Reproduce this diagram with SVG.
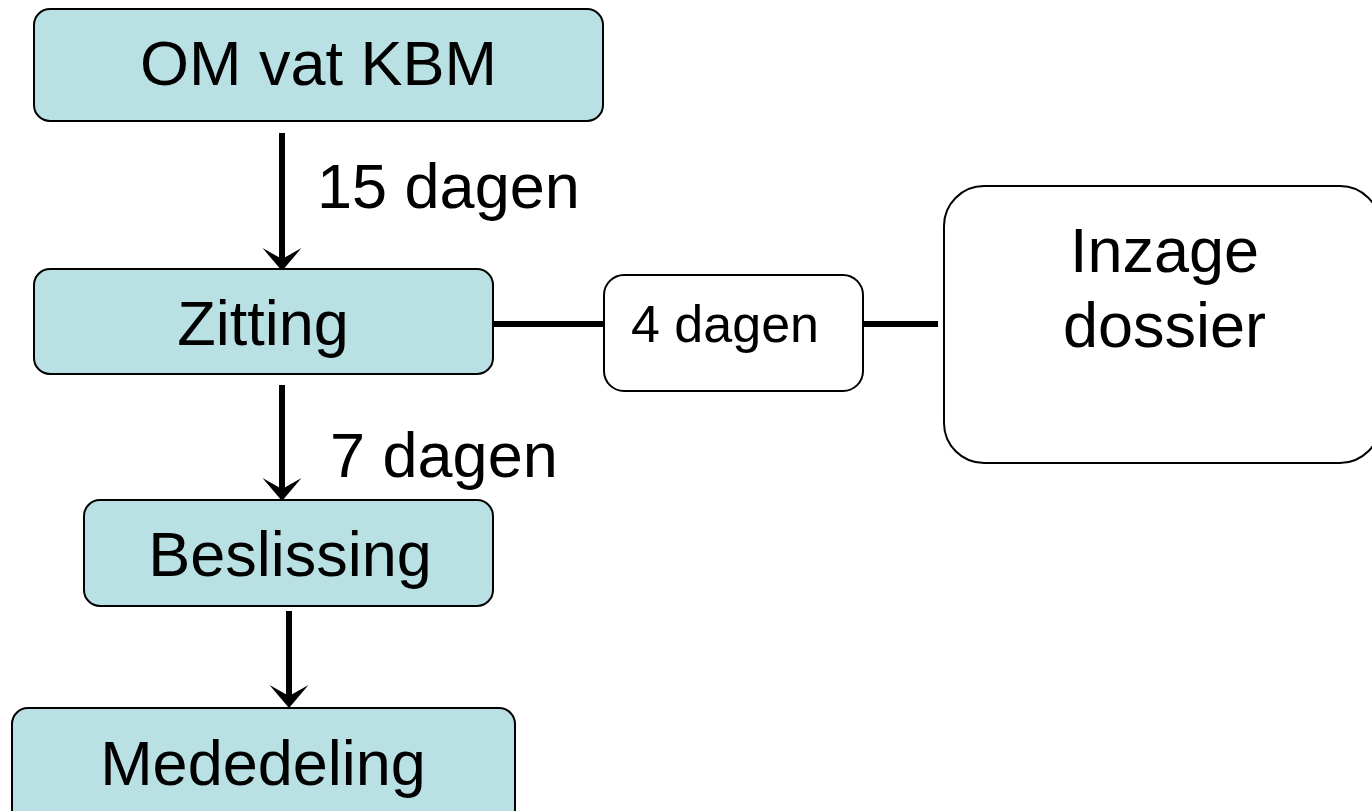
<svg xmlns="http://www.w3.org/2000/svg" width="1372" height="811" viewBox="0 0 1372 811">
  <style>
    .step { fill: #B9E0E3; stroke: #000; stroke-width: 2; }
    .plain { fill: #FFFFFF; stroke: #000; stroke-width: 2; }
    .lbl { font-family: "Liberation Sans", Arial, sans-serif; font-size: 63px; fill: #000; }
    .mid { text-anchor: middle; }
    .conn { stroke: #000; stroke-width: 6; fill: none; }
  </style>
  <defs>
    <marker id="head" markerUnits="userSpaceOnUse" viewBox="0 -20 24 40" markerWidth="24" markerHeight="40" refX="11" refY="0" orient="auto">
      <path d="M0,-19.5 L23,0 L0,19.5 L11,0 Z" fill="#000"/>
    </marker>
  </defs>
  <rect width="1372" height="811" fill="#FFFFFF"/>

  <g id="connectors">
    <line class="conn" x1="282" y1="133" x2="282" y2="259" marker-end="url(#head)"/>
    <line class="conn" x1="282" y1="385" x2="282" y2="489" marker-end="url(#head)"/>
    <line class="conn" x1="289" y1="611" x2="289" y2="696" marker-end="url(#head)"/>
    <line class="conn" x1="493" y1="324" x2="604" y2="324"/>
    <line class="conn" x1="863" y1="324" x2="938" y2="324"/>
  </g>

  <g id="label-15">
    <text class="lbl" x="317" y="208">15 dagen</text>
  </g>
  <g id="label-7">
    <text class="lbl" x="330" y="477">7 dagen</text>
  </g>

  <g id="node-om">
    <rect class="step" x="34" y="9" width="569" height="112" rx="16" ry="16"/>
    <text class="lbl mid" x="318.5" y="85">OM vat KBM</text>
  </g>

  <g id="node-zitting">
    <rect class="step" x="34" y="269" width="459" height="105" rx="16" ry="16"/>
    <text class="lbl mid" x="263" y="345">Zitting</text>
  </g>

  <g id="node-4dagen">
    <rect class="plain" x="604" y="275" width="259" height="116" rx="20" ry="20"/>
    <text class="lbl" x="631" y="342" style="font-size:52px">4 dagen</text>
  </g>

  <g id="node-inzage">
    <rect class="plain" x="944" y="186" width="436" height="277" rx="40" ry="40"/>
    <text class="lbl mid" x="1164.5" y="272">Inzage</text>
    <text class="lbl mid" x="1164.5" y="347">dossier</text>
  </g>

  <g id="node-beslissing">
    <rect class="step" x="84" y="500" width="409" height="106" rx="16" ry="16"/>
    <text class="lbl mid" x="290" y="576">Beslissing</text>
  </g>

  <g id="node-mededeling">
    <rect class="step" x="12" y="708" width="503" height="120" rx="16" ry="16"/>
    <text class="lbl mid" x="263" y="785">Mededeling</text>
  </g>
</svg>
